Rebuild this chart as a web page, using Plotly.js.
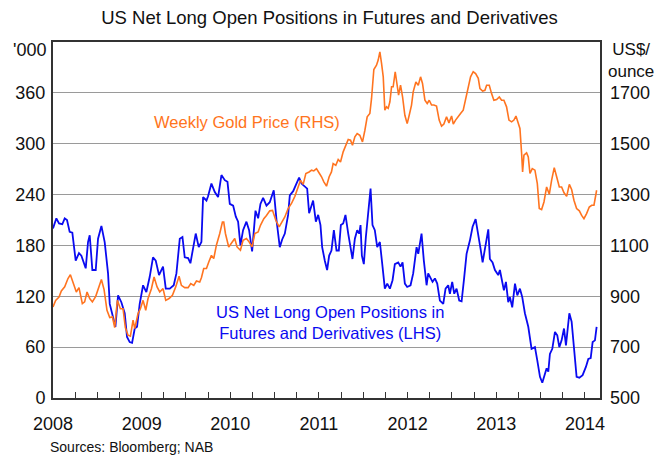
<!DOCTYPE html>
<html>
<head>
<meta charset="utf-8">
<script src="https://cdn.plot.ly/plotly-3.0.1.min.js"></script>
<style>html,body{margin:0;padding:0;background:#fff;}#chart{width:659px;height:455px;}</style>
</head>
<body>
<div id="chart"></div>
<script>
// Net long open positions ('000 contracts), LHS
const blueX = [2008.000,2008.038,2008.068,2008.105,2008.132,2008.158,2008.188,2008.218,2008.256,2008.293,2008.320,2008.369,2008.395,2008.414,2008.444,2008.482,2008.508,2008.546,2008.583,2008.621,2008.640,2008.677,2008.704,2008.734,2008.771,2008.809,2008.835,2008.865,2008.892,2008.922,2008.948,2008.978,2009.016,2009.053,2009.091,2009.128,2009.159,2009.196,2009.241,2009.272,2009.317,2009.362,2009.392,2009.430,2009.460,2009.486,2009.524,2009.550,2009.580,2009.610,2009.644,2009.674,2009.693,2009.731,2009.749,2009.787,2009.825,2009.862,2009.900,2009.938,2009.968,2009.994,2010.032,2010.062,2010.088,2010.114,2010.144,2010.182,2010.212,2010.246,2010.284,2010.314,2010.340,2010.370,2010.408,2010.445,2010.490,2010.521,2010.558,2010.585,2010.615,2010.652,2010.671,2010.709,2010.746,2010.776,2010.803,2010.867,2010.889,2010.934,2010.965,2010.991,2011.017,2011.036,2011.066,2011.092,2011.115,2011.141,2011.168,2011.198,2011.224,2011.247,2011.273,2011.299,2011.330,2011.356,2011.378,2011.405,2011.431,2011.454,2011.469,2011.484,2011.506,2011.529,2011.555,2011.582,2011.604,2011.630,2011.657,2011.687,2011.717,2011.743,2011.770,2011.800,2011.830,2011.856,2011.894,2011.920,2011.943,2011.969,2011.995,2012.033,2012.063,2012.101,2012.120,2012.157,2012.183,2012.214,2012.232,2012.259,2012.281,2012.308,2012.334,2012.364,2012.402,2012.428,2012.458,2012.477,2012.503,2012.526,2012.552,2012.582,2012.609,2012.635,2012.665,2012.703,2012.733,2012.767,2012.797,2012.823,2012.846,2012.872,2012.910,2012.928,2012.958,2012.985,2013.022,2013.041,2013.060,2013.086,2013.109,2013.135,2013.154,2013.180,2013.211,2013.237,2013.267,2013.293,2013.323,2013.361,2013.398,2013.436,2013.463,2013.493,2013.519,2013.549,2013.568,2013.587,2013.605,2013.632,2013.662,2013.688,2013.711,2013.737,2013.764,2013.786,2013.824,2013.850,2013.876,2013.906,2013.937,2013.974,2014.012,2014.038,2014.065,2014.087,2014.113,2014.132];
const blueY = [200,212,206,205,212,210,196,195,162,171,168,153,184,192,151,151,188,203,184,147,111,96,84,121,113,100,72,66,65,82,84,111,133,125,143,166,162,145,155,129,129,133,147,188,190,166,165,159,175,194,178,184,237,233,238,253,243,237,263,257,255,229,227,214,208,180,198,208,198,173,221,212,229,236,227,231,245,210,178,187,194,216,239,244,253,260,253,247,218,233,208,216,204,178,162,151,168,174,198,174,174,204,206,216,194,176,164,188,198,194,204,168,158,190,219,247,204,198,178,184,155,129,135,129,139,158,160,155,160,135,131,133,147,178,170,194,162,133,147,141,137,141,135,115,111,129,133,123,137,123,129,115,114,139,170,186,202,211,194,176,160,174,199,164,160,151,145,151,141,127,137,113,119,107,135,121,129,119,100,84,58,60,44,25,18,27,35,31,52,58,78,74,60,68,82,62,100,90,60,25,24,27,37,46,47,66,68,84];

// Weekly gold price (US$/ounce), RHS
const goldX = [2008.000,2008.030,2008.068,2008.094,2008.132,2008.169,2008.196,2008.226,2008.263,2008.293,2008.331,2008.357,2008.384,2008.414,2008.444,2008.482,2008.519,2008.546,2008.576,2008.609,2008.640,2008.670,2008.696,2008.726,2008.760,2008.790,2008.816,2008.846,2008.873,2008.903,2008.922,2008.959,2008.986,2009.016,2009.046,2009.072,2009.110,2009.140,2009.174,2009.204,2009.241,2009.272,2009.309,2009.347,2009.384,2009.422,2009.448,2009.486,2009.524,2009.554,2009.588,2009.618,2009.655,2009.674,2009.700,2009.731,2009.757,2009.787,2009.813,2009.843,2009.881,2009.911,2009.926,2009.945,2009.982,2010.013,2010.050,2010.076,2010.114,2010.144,2010.182,2010.212,2010.246,2010.276,2010.314,2010.340,2010.378,2010.408,2010.445,2010.476,2010.513,2010.551,2010.577,2010.615,2010.652,2010.690,2010.728,2010.765,2010.792,2010.822,2010.852,2010.889,2010.916,2010.942,2010.972,2011.002,2011.029,2011.055,2011.085,2011.115,2011.141,2011.160,2011.190,2011.217,2011.243,2011.273,2011.303,2011.330,2011.356,2011.378,2011.405,2011.431,2011.461,2011.491,2011.518,2011.544,2011.574,2011.593,2011.619,2011.649,2011.668,2011.687,2011.706,2011.725,2011.743,2011.762,2011.781,2011.800,2011.819,2011.837,2011.860,2011.883,2011.898,2011.920,2011.943,2011.969,2011.995,2012.018,2012.044,2012.063,2012.093,2012.120,2012.146,2012.168,2012.195,2012.221,2012.244,2012.270,2012.296,2012.326,2012.356,2012.383,2012.409,2012.439,2012.466,2012.496,2012.515,2012.541,2012.571,2012.597,2012.627,2012.654,2012.684,2012.710,2012.740,2012.767,2012.797,2012.816,2012.846,2012.872,2012.891,2012.921,2012.947,2012.973,2013.004,2013.034,2013.060,2013.086,2013.116,2013.143,2013.173,2013.199,2013.222,2013.248,2013.267,2013.286,2013.297,2013.312,2013.342,2013.361,2013.380,2013.406,2013.436,2013.463,2013.485,2013.511,2013.538,2013.568,2013.598,2013.624,2013.654,2013.681,2013.711,2013.737,2013.764,2013.794,2013.824,2013.850,2013.876,2013.906,2013.937,2013.963,2013.989,2014.019,2014.049,2014.076,2014.102,2014.132];
const goldY = [858,884,897,921,937,970,985,956,917,934,871,878,917,891,878,900,937,966,926,845,816,819,777,884,851,851,777,747,743,806,773,832,851,884,845,891,930,976,937,917,930,884,891,904,937,979,943,934,934,950,943,960,956,973,1009,1009,1035,1061,1048,1101,1147,1192,1192,1147,1094,1107,1127,1094,1081,1120,1127,1114,1094,1147,1153,1179,1205,1218,1236,1238,1199,1173,1189,1212,1245,1265,1293,1330,1356,1340,1383,1389,1396,1393,1402,1385,1370,1350,1333,1370,1389,1422,1415,1438,1428,1468,1491,1517,1514,1494,1527,1540,1533,1507,1553,1606,1619,1678,1792,1809,1829,1861,1816,1763,1632,1645,1639,1665,1724,1724,1783,1737,1691,1730,1684,1612,1579,1612,1652,1704,1743,1730,1763,1737,1671,1658,1671,1652,1652,1648,1593,1569,1577,1606,1582,1609,1577,1593,1609,1619,1632,1671,1724,1763,1783,1776,1757,1717,1707,1710,1730,1730,1697,1671,1674,1684,1671,1671,1645,1593,1586,1593,1609,1579,1560,1461,1389,1455,1464,1448,1383,1402,1396,1343,1245,1241,1271,1330,1301,1356,1406,1370,1330,1330,1307,1293,1340,1320,1278,1245,1236,1218,1205,1225,1251,1258,1258,1317];

const yearTicks = [2008,2009,2010,2011,2012,2013,2014];
const yearLabels = ['2008','2009','2010','2011','2012','2013','2014'];
const leftTicks = [0,60,120,180,240,300,360];
const rightTicks = [500,700,900,1100,1300,1500,1700];

const FONT = 'Liberation Sans, Arial, sans-serif';
const BLUE = '#0a0af0';
const ORANGE = '#ff7420';

const traces = [
  {x: blueX, y: blueY, type: 'scatter', mode: 'lines', yaxis: 'y',
   line: {color: BLUE, width: 1.8}, hoverinfo: 'skip'},
  {x: goldX, y: goldY, type: 'scatter', mode: 'lines', yaxis: 'y2',
   line: {color: ORANGE, width: 1.6}, hoverinfo: 'skip'}
];

const layout = {
  width: 659, height: 455,
  margin: {l: 53, r: 59, t: 42, b: 57},
  paper_bgcolor: '#fff', plot_bgcolor: '#fff',
  showlegend: false,
  font: {family: FONT, size: 18, color: '#111'},
  title: {text: 'US Net Long Open Positions in Futures and Derivatives',
          font: {family: FONT, size: 18.5, color: '#111'},
          xref: 'container', x: 0.5, xanchor: 'center',
          yref: 'container', y: 1 - 18/455, yanchor: 'middle'},
  xaxis: {type: 'linear', range: [2008, 2014.17],
          tickvals: yearTicks, ticktext: yearLabels,
          ticks: 'inside', ticklen: 6, tickcolor: '#333', tickwidth: 1,
          minor: {dtick: 0.25, tick0: 2008, ticks: 'inside', ticklen: 6, tickcolor: '#333', tickwidth: 1, showgrid: false},
          showgrid: false, zeroline: false,
          showline: true, linecolor: '#333', linewidth: 2, mirror: true,
          ticklabelstandoff: 8,
          tickfont: {family: FONT, size: 18, color: '#111'}},
  yaxis: {range: [0, 420], tickvals: leftTicks,
          ticks: '', showgrid: true, gridcolor: '#9a9a9a', gridwidth: 1,
          zeroline: false, showline: true, linecolor: '#333', linewidth: 2, mirror: true,
          ticklabelstandoff: 2,
          tickfont: {family: FONT, size: 18, color: '#111'}},
  yaxis2: {range: [500, 1900], tickvals: rightTicks, overlaying: 'y', side: 'right',
           ticks: '', showgrid: false, zeroline: false, showline: false,
           ticklabelstandoff: 9,
           tickfont: {family: FONT, size: 18, color: '#111'}},
  annotations: [
    {text: "'000", xref: 'paper', yref: 'paper', x: -0.009, y: (398-50)/356,
     xanchor: 'right', yanchor: 'middle', showarrow: false,
     font: {family: FONT, size: 18, color: '#111'}},
    {text: 'US$/<br>ounce', xref: 'paper', yref: 'paper', x: (631-53)/547, y: (398-60)/356,
     xanchor: 'center', yanchor: 'middle', showarrow: false,
     font: {family: FONT, size: 17, color: '#111'}},
    {text: 'Weekly Gold Price (RHS)', xref: 'paper', yref: 'paper', x: (247-53)/547, y: (398-122)/356,
     xanchor: 'center', yanchor: 'middle', showarrow: false,
     font: {family: FONT, size: 16.5, color: ORANGE}},
    {text: 'US Net Long Open Positions in<br>Futures and Derivatives (LHS)', xref: 'paper', yref: 'paper',
     x: (330-53)/547, y: (398-322)/356,
     xanchor: 'center', yanchor: 'middle', showarrow: false,
     font: {family: FONT, size: 16.5, color: BLUE}},
    {text: 'Sources: Bloomberg; NAB', xref: 'paper', yref: 'paper', x: (48-53)/547, y: (398-447)/356,
     xanchor: 'left', yanchor: 'middle', showarrow: false,
     font: {family: FONT, size: 14, color: '#111'}}
  ]
};

Plotly.newPlot('chart', traces, layout, {displayModeBar: false, staticPlot: true});
</script>
</body>
</html>
